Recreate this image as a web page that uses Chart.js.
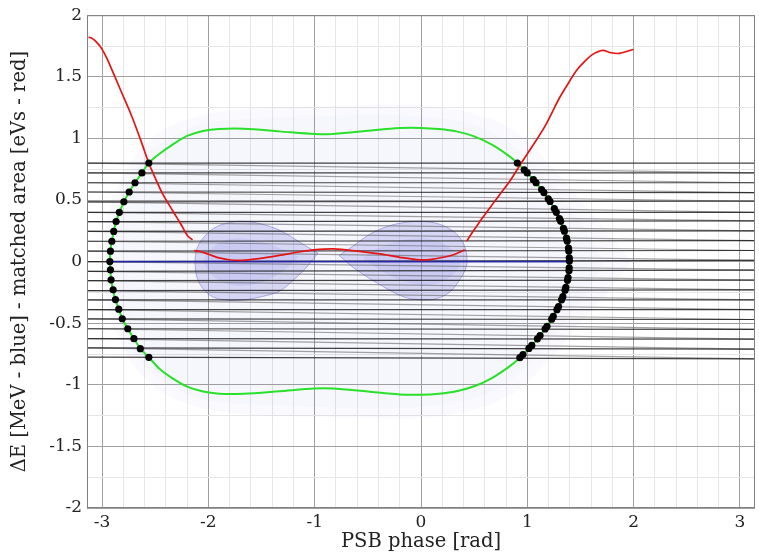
<!DOCTYPE html>
<html>
<head>
<meta charset="utf-8">
<script src="https://cdn.jsdelivr.net/npm/chart.js@4.4.0/dist/chart.umd.min.js"></script>
<style>
  html, body { margin: 0; padding: 0; background: #fff; }
  #wrap { width: 759px; height: 555px; }
</style>
</head>
<body>
<div id="wrap"><canvas id="myChart" width="759" height="555"></canvas></div>
<script>
// grid / tick values
var xMajor = [-3, -2, -1, 0, 1, 2, 3];
var xMinor = [-2.8, -2.6, -2.4, -2.2, -1.8, -1.6, -1.4, -1.2, -0.8, -0.6, -0.4, -0.2,
              0.2, 0.4, 0.6, 0.8, 1.2, 1.4, 1.6, 1.8, 2.2, 2.4, 2.6, 2.8];
var yMajor = [-2, -1.5, -1, -0.5, 0, 0.5, 1, 1.5, 2];
var yMinor = [-1.75, -1.25, -0.75, -0.25, 0.25, 0.75, 1.25, 1.75];

// tracked particles: y at phase -pi (left) and +pi (right)
var darkLeft  = [0.80, 0.72, 0.64, 0.565, 0.485, 0.40, 0.325, 0.245, 0.165, 0.085, 0.0, -0.08, -0.155, -0.235, -0.31, -0.39, -0.465, -0.545, -0.625, -0.70, -0.775];
var darkRight = [0.80, 0.72, 0.64, 0.56, 0.49, 0.40, 0.33, 0.25, 0.17, 0.09, 0.01, -0.07, -0.15, -0.23, -0.31, -0.39, -0.47, -0.55, -0.63, -0.71, -0.79];
var greyLeft  = [0.80, 0.72, 0.64, 0.565, 0.485, 0.40, 0.325, 0.245, 0.165, 0.085, 0.0, -0.08, -0.155, -0.235, -0.31, -0.39, -0.465, -0.545, -0.625, -0.70];
var greyRight = [0.72, 0.64, 0.56, 0.49, 0.40, 0.33, 0.25, 0.17, 0.09, 0.01, -0.07, -0.15, -0.23, -0.31, -0.39, -0.47, -0.55, -0.63, -0.71, -0.79];

// particles sitting on the separatrix
var leftDotsX = [-2.56, -2.625, -2.69, -2.745, -2.795, -2.837, -2.868, -2.89, -2.908, -2.921, -2.927, -2.921, -2.915, -2.896, -2.874, -2.843, -2.81, -2.758, -2.70, -2.64, -2.56];
var leftDotsY = [0.80, 0.72, 0.64, 0.565, 0.485, 0.40, 0.325, 0.245, 0.165, 0.085, 0.0, -0.067, -0.148, -0.229, -0.308, -0.386, -0.464, -0.545, -0.626, -0.707, -0.777];
var rightDotsX = [0.906, 0.971, 0.999, 1.057, 1.082, 1.134, 1.156, 1.197, 1.214, 1.254, 1.273, 1.302, 1.314, 1.340, 1.349, 1.368, 1.375, 1.387, 1.390, 1.395, 1.396,
                  1.394, 1.392, 1.383, 1.378, 1.362, 1.355, 1.334, 1.322, 1.294, 1.279, 1.244, 1.229, 1.185, 1.167, 1.120, 1.095, 1.042, 1.015, 0.959, 0.930];
var rightDotsY = [0.80, 0.745, 0.72, 0.665, 0.64, 0.585, 0.56, 0.51, 0.488, 0.43, 0.40, 0.35, 0.327, 0.27, 0.247, 0.19, 0.167, 0.11, 0.087, 0.03, 0.005,
                  -0.05, -0.075, -0.13, -0.152, -0.21, -0.232, -0.285, -0.31, -0.365, -0.39, -0.445, -0.467, -0.525, -0.547, -0.60, -0.627, -0.68, -0.705, -0.755, -0.78];

// separatrix (green), closed loop
var sepX = [-0.833, -0.5, -0.2, 0, 0.167, 0.333, 0.5, 0.667, 0.833, 0.906,
            0.999, 1.082, 1.156, 1.214, 1.273, 1.314, 1.349, 1.375, 1.390, 1.396, 1.392, 1.378, 1.355, 1.322, 1.279, 1.229, 1.167, 1.095, 1.015, 0.93,
            0.833, 0.667, 0.5, 0.333, 0.167, 0, -0.2, -0.5, -0.833, -1.0, -1.333, -1.667, -1.9, -2.05, -2.2, -2.333, -2.46, -2.56,
            -2.64, -2.70, -2.758, -2.81, -2.843, -2.874, -2.896, -2.915, -2.921, -2.927, -2.921, -2.908, -2.89, -2.868, -2.837, -2.795, -2.745, -2.69, -2.625, -2.56,
            -2.46, -2.333, -2.2, -2.05, -1.9, -1.667, -1.333, -1.0, -0.833];
var sepY = [1.035, 1.062, 1.084, 1.085, 1.076, 1.057, 1.016, 0.949, 0.854, 0.80,
            0.72, 0.64, 0.56, 0.488, 0.40, 0.327, 0.247, 0.167, 0.087, 0.0, -0.075, -0.152, -0.232, -0.31, -0.39, -0.467, -0.547, -0.627, -0.705, -0.78,
            -0.85, -0.945, -1.012, -1.052, -1.072, -1.08, -1.078, -1.055, -1.03, -1.03, -1.052, -1.072, -1.072, -1.055, -1.015, -0.95, -0.87, -0.777,
            -0.707, -0.626, -0.545, -0.464, -0.386, -0.308, -0.229, -0.148, -0.067, 0.0, 0.085, 0.165, 0.245, 0.325, 0.40, 0.485, 0.565, 0.64, 0.72, 0.80,
            0.875, 0.952, 1.02, 1.06, 1.076, 1.078, 1.057, 1.035, 1.035];

// matched area (red), three pieces
var areaLeftX = [-3.127, -3.09, -3.05, -3.008, -2.96, -2.915, -2.822, -2.728, -2.634, -2.556, -2.49, -2.43, -2.336, -2.259, -2.196, -2.149];
var areaLeftY = [1.822, 1.81, 1.78, 1.735, 1.66, 1.573, 1.385, 1.196, 0.98, 0.79, 0.66, 0.55, 0.413, 0.305, 0.21, 0.176];
var areaMidX = [-2.134, -2.08, -2.0, -1.9, -1.79, -1.65, -1.478, -1.3, -1.15, -1.01, -0.82, -0.6, -0.384, -0.2, -0.01, 0.1, 0.21, 0.32, 0.412];
var areaMidY = [0.089, 0.082, 0.06, 0.03, 0.013, 0.012, 0.03, 0.055, 0.078, 0.095, 0.103, 0.085, 0.062, 0.035, 0.014, 0.018, 0.035, 0.06, 0.095];
var areaRightX = [0.43, 0.47, 0.533, 0.6, 0.667, 0.75, 0.833, 0.933, 1.05, 1.167, 1.25, 1.303, 1.38, 1.459, 1.54, 1.615, 1.709, 1.787, 1.865, 1.996];
var areaRightY = [0.165, 0.22, 0.30, 0.38, 0.46, 0.555, 0.65, 0.786, 0.94, 1.10, 1.24, 1.33, 1.44, 1.547, 1.625, 1.682, 1.714, 1.695, 1.69, 1.722];

// synchronous phase line (blue)
var syncX = [-2.927, 1.396];
var syncY = [0, 0];

// bunch distributions (blue shading): upper and lower outlines
var envX  = [-2.98, -2.95, -2.85, -2.65, -2.4, -2.0, -1.5, -1.0, -0.5, 0, 0.5, 0.9, 1.2, 1.5, 1.75, 1.98];
var envUp = [0.0, 0.35, 0.62, 0.9, 1.08, 1.2, 1.25, 1.26, 1.27, 1.27, 1.2, 1.05, 0.8, 0.5, 0.25, 0.0];
var envLo = [0.0, -0.35, -0.62, -0.9, -1.08, -1.2, -1.25, -1.26, -1.27, -1.27, -1.2, -1.05, -0.8, -0.5, -0.25, 0.0];
var env2X  = [-2.93, -2.85, -2.6, -2.3, -2.0, -1.0, 0, 0.6, 1.0, 1.3, 1.55, 1.72];
var env2Up = [0.0, 0.45, 0.85, 1.03, 1.13, 1.18, 1.18, 1.08, 0.85, 0.55, 0.25, 0.0];
var env2Lo = [0.0, -0.45, -0.85, -1.03, -1.13, -1.18, -1.18, -1.08, -0.85, -0.55, -0.25, 0.0];

var lobeLX  = [-2.127, -2.11, -2.05, -1.95, -1.8, -1.65, -1.5, -1.33, -1.2, -1.07, -0.97];
var lobeLUp = [0.0, 0.1, 0.19, 0.27, 0.318, 0.326, 0.305, 0.255, 0.19, 0.12, 0.07];
var lobeLLo = [0.0, -0.12, -0.22, -0.29, -0.315, -0.31, -0.285, -0.24, -0.15, -0.04, 0.07];
var lobeRX  = [-0.77, -0.65, -0.478, -0.3, -0.15, 0.0, 0.15, 0.28, 0.37, 0.42, 0.435];
var lobeRUp = [0.05, 0.12, 0.224, 0.29, 0.318, 0.326, 0.31, 0.26, 0.19, 0.1, 0.0];
var lobeRLo = [0.05, -0.04, -0.14, -0.23, -0.29, -0.31, -0.3, -0.24, -0.14, -0.06, 0.0];
var coreLX  = [-2.05, -1.98, -1.85, -1.7, -1.5, -1.3, -1.15];
var coreLUp = [0, 0.1, 0.17, 0.19, 0.16, 0.1, 0.04];
var coreLLo = [0, -0.1, -0.17, -0.2, -0.17, -0.08, 0.04];
var coreRX  = [-0.55, -0.4, -0.2, 0, 0.18, 0.32, 0.38];
var coreRUp = [0.03, 0.11, 0.17, 0.19, 0.16, 0.08, 0];
var coreRLo = [0.03, -0.06, -0.15, -0.19, -0.17, -0.09, 0];

function pts(xs, ys) {
  return xs.map(function(x, i) { return { x: x, y: ys[i] }; });
}

var datasets = [];
function addLine(xs, ys, color, width, order, extra) {
  var ds = { data: pts(xs, ys), showLine: true, borderColor: color, borderWidth: width,
             pointRadius: 0, fill: false, order: order, tension: 0 };
  for (var k in extra) ds[k] = extra[k];
  datasets.push(ds);
  return datasets.length - 1;
}
// shaded region between an upper and a lower outline
function addRegion(xs, up, lo, fillColor, edgeColor, order) {
  var i = addLine(xs, up, edgeColor, edgeColor ? 1 : 0, order, { tension: 0.35 });
  addLine(xs, lo, edgeColor, edgeColor ? 1 : 0, order, { tension: 0.35, fill: i, backgroundColor: fillColor });
}

addRegion(envX, envUp, envLo, 'rgba(120,120,230,0.035)', null, 9);
addRegion(env2X, env2Up, env2Lo, 'rgba(120,120,230,0.03)', null, 8);
addRegion(lobeLX, lobeLUp, lobeLLo, 'rgba(105,105,220,0.22)', 'rgba(90,90,200,0.45)', 7);
addRegion(lobeRX, lobeRUp, lobeRLo, 'rgba(105,105,220,0.22)', 'rgba(90,90,200,0.45)', 7);
addRegion(coreLX, coreLUp, coreLLo, 'rgba(105,105,220,0.12)', null, 6);
addRegion(coreRX, coreRUp, coreRLo, 'rgba(105,105,220,0.12)', null, 6);

darkLeft.forEach(function(v, i) {
  addLine([-Math.PI, Math.PI], [v, darkRight[i]], 'rgba(20,20,20,0.8)', 1.2, 5);
});
greyLeft.forEach(function(v, i) {
  addLine([-Math.PI, Math.PI], [v, greyRight[i]], 'rgba(90,90,90,0.55)', 1.2, 5);
});

addLine(syncX, syncY, 'rgba(35,35,165,0.9)', 1.6, 4);
addLine(sepX, sepY, 'rgb(40,225,40)', 2, 3, { tension: 0.3 });
addLine(areaLeftX, areaLeftY, 'rgb(228,20,20)', 1.7, 2, { tension: 0.3 });
addLine(areaMidX, areaMidY, 'rgb(228,20,20)', 1.7, 2, { tension: 0.3 });
addLine(areaRightX, areaRightY, 'rgb(228,20,20)', 1.7, 2, { tension: 0.3 });

datasets.push({ data: pts(leftDotsX, leftDotsY), showLine: false, pointRadius: 3.6,
                pointBackgroundColor: '#000', pointBorderWidth: 0, order: 1 });
datasets.push({ data: pts(rightDotsX, rightDotsY), showLine: false, pointRadius: 3.6,
                pointBackgroundColor: '#000', pointBorderWidth: 0, order: 1 });

var tickFont = { family: 'DejaVu Serif', size: 17 };
var titleFont = { family: 'DejaVu Serif', size: 19.5 };

var framePlugin = {
  id: 'frame',
  afterDraw: function(chart) {
    var a = chart.chartArea, c = chart.ctx;
    c.save();
    c.strokeStyle = '#808080';
    c.lineWidth = 1;
    c.strokeRect(a.left + 0.5, a.top + 0.5, a.right - a.left - 1, a.bottom - a.top - 1);
    c.restore();
  }
};

var ctx = document.getElementById('myChart').getContext('2d');
var chart = new Chart(ctx, {
  type: 'scatter',
  data: { datasets: datasets },
  plugins: [framePlugin],
  options: {
    responsive: false,
    animation: false,
    layout: { padding: { left: 0, right: 3, top: 14, bottom: 0 } },
    plugins: { legend: { display: false }, tooltip: { enabled: false } },
    scales: {
      x: {
        type: 'linear', min: -Math.PI, max: Math.PI,
        afterBuildTicks: function(s) {
          s.ticks = xMajor.concat(xMinor).sort(function(a, b) { return a - b; })
                      .map(function(v) { return { value: v }; });
        },
        afterFit: function(s) { s.height = 47; },
        ticks: {
          autoSkip: false, maxRotation: 0, padding: 4, color: '#222', font: tickFont,
          callback: function(v) { return xMajor.indexOf(v) >= 0 ? String(v) : ''; }
        },
        grid: {
          drawTicks: false,
          color: function(c) { return xMajor.indexOf(c.tick.value) >= 0 ? '#a0a0a0' : '#e6e6e6'; }
        },
        border: { display: false },
        title: { display: true, text: 'PSB phase [rad]', color: '#222', font: titleFont, padding: { top: 0, bottom: 1 } }
      },
      y: {
        type: 'linear', min: -2, max: 2,
        afterBuildTicks: function(s) {
          s.ticks = yMajor.concat(yMinor).sort(function(a, b) { return a - b; })
                      .map(function(v) { return { value: v }; });
        },
        afterFit: function(s) { s.width = 87; },
        ticks: {
          autoSkip: false, padding: 5, color: '#222', font: tickFont,
          callback: function(v) { return yMajor.indexOf(v) >= 0 ? String(v) : ''; }
        },
        grid: {
          drawTicks: false,
          color: function(c) { return yMajor.indexOf(c.tick.value) >= 0 ? '#a0a0a0' : '#e6e6e6'; }
        },
        border: { display: false },
        title: { display: true, text: 'ΔE [MeV - blue] - matched area [eVs - red]', color: '#222', font: titleFont, padding: { top: 8, bottom: 0 } }
      }
    }
  }
});
</script>
</body>
</html>
